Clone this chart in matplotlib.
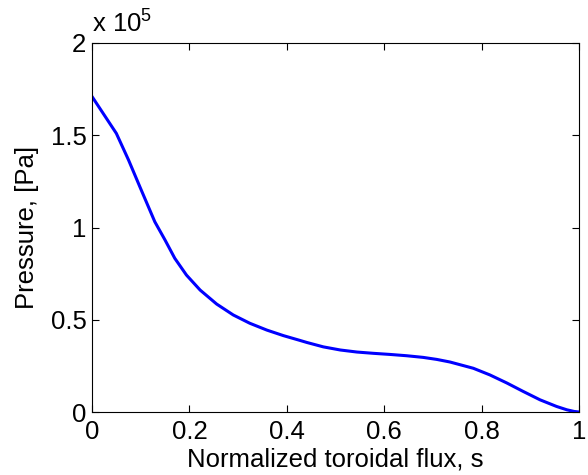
import matplotlib
matplotlib.use("Agg")
import matplotlib.pyplot as plt

plt.rcParams['font.family'] = ['Liberation Sans', 'DejaVu Sans']
plt.rcParams['mathtext.default'] = 'regular'

# Normalized toroidal flux s
s = [0.0, 0.025, 0.05, 0.075, 0.1, 0.129, 0.15, 0.17, 0.194, 0.222, 0.256, 0.29,
     0.324, 0.359, 0.393, 0.427, 0.441, 0.475, 0.51, 0.544, 0.578, 0.612, 0.646,
     0.68, 0.708, 0.735, 0.783, 0.817, 0.852, 0.885, 0.92, 0.954, 0.975, 0.99, 1.0]
# Pressure [Pa]
pressure = [1.71e5, 1.61e5, 1.51e5, 1.366e5, 1.21e5, 1.031e5, 0.932e5, 0.833e5,
            0.742e5, 0.661e5, 0.585e5, 0.526e5, 0.481e5, 0.444e5, 0.414e5, 0.388e5,
            0.377e5, 0.353e5, 0.336e5, 0.325e5, 0.318e5, 0.312e5, 0.305e5,
            0.296e5, 0.285e5, 0.271e5, 0.237e5, 0.201e5, 0.157e5, 0.112e5,
            0.066e5, 0.030e5, 0.012e5, 0.003e5, 0.0]

xticks = [0, 0.2, 0.4, 0.6, 0.8, 1]
xtick_labels = ['0', '0.2', '0.4', '0.6', '0.8', '1']
yticks = [0, 0.5e5, 1.0e5, 1.5e5, 2.0e5]
ytick_labels = ['0', '0.5', '1', '1.5', '2']

FS = 18.5

fig = plt.figure(figsize=(5.88, 4.75), dpi=100)
ax = fig.add_axes([92/588, 1 - 412/475, (579 - 92)/588, (412 - 43)/475])

ax.plot(s, pressure, color='#0000ff', linewidth=2.2, solid_joinstyle='round')

ax.set_xlim(0, 1)
ax.set_ylim(0, 2e5)
ax.set_xticks(xticks)
ax.set_xticklabels(xtick_labels)
ax.set_yticks(yticks)
ax.set_yticklabels(ytick_labels)
ax.tick_params(direction='in', length=5, width=0.8, top=True, right=True,
               labelsize=FS, colors='black')
ax.tick_params(axis='x', pad=6)
ax.tick_params(axis='y', pad=4)
for sp in ax.spines.values():
    sp.set_linewidth(0.8)

ax.set_xlabel('Normalized toroidal flux, s', fontsize=FS, labelpad=2)
ax.set_ylabel('Pressure, [Pa]', fontsize=FS, labelpad=8)

ax.text(0.0, 1.015, r'x 10$^{5}$', transform=ax.transAxes, fontsize=FS,
        ha='left', va='bottom')

fig.savefig('out.png', dpi=100)
